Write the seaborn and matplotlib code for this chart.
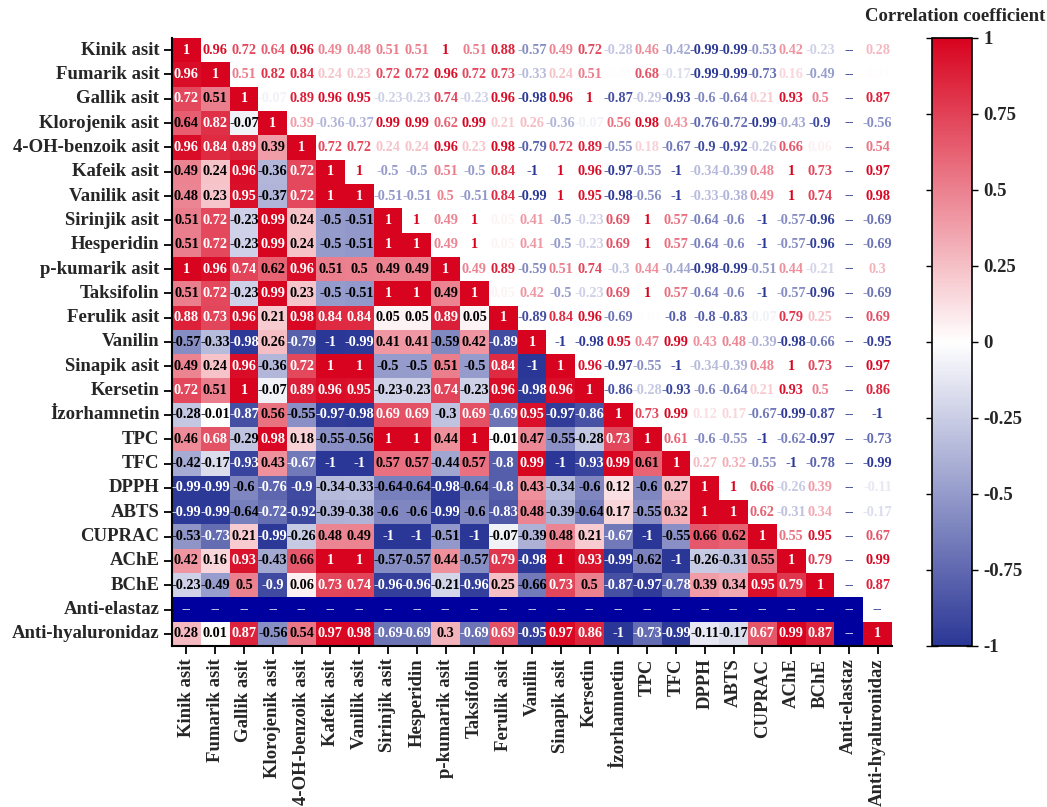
import numpy as np
import pandas as pd
import matplotlib
matplotlib.use("Agg")
import matplotlib.pyplot as plt
from matplotlib.colors import LinearSegmentedColormap, ListedColormap, Normalize
import seaborn as sns

labels = ["Kinik asit", "Fumarik asit", "Gallik asit", "Klorojenik asit",
          "4-OH-benzoik asit", "Kafeik asit", "Vanilik asit", "Sirinjik asit",
          "Hesperidin", "p-kumarik asit", "Taksifolin", "Ferulik asit", "Vanilin",
          "Sinapik asit", "Kersetin", "İzorhamnetin", "TPC", "TFC", "DPPH", "ABTS",
          "CUPRAC", "AChE", "BChE", "Anti-elastaz", "Anti-hyaluronidaz"]

# lower triangle of the correlation matrix (row i, columns 0..i-1); None = not computable
lower = [
    [],
    [0.96],
    [0.72, 0.51],
    [0.64, 0.82, -0.07],
    [0.96, 0.84, 0.89, 0.39],
    [0.49, 0.24, 0.96, -0.36, 0.72],
    [0.48, 0.23, 0.95, -0.37, 0.72, 1],
    [0.51, 0.72, -0.23, 0.99, 0.24, -0.5, -0.51],
    [0.51, 0.72, -0.23, 0.99, 0.24, -0.5, -0.51, 1],
    [1, 0.96, 0.74, 0.62, 0.96, 0.51, 0.5, 0.49, 0.49],
    [0.51, 0.72, -0.23, 0.99, 0.23, -0.5, -0.51, 1, 1, 0.49],
    [0.88, 0.73, 0.96, 0.21, 0.98, 0.84, 0.84, 0.05, 0.05, 0.89, 0.05],
    [-0.57, -0.33, -0.98, 0.26, -0.79, -1, -0.99, 0.41, 0.41, -0.59, 0.42, -0.89],
    [0.49, 0.24, 0.96, -0.36, 0.72, 1, 1, -0.5, -0.5, 0.51, -0.5, 0.84, -1],
    [0.72, 0.51, 1, -0.07, 0.89, 0.96, 0.95, -0.23, -0.23, 0.74, -0.23, 0.96, -0.98, 0.96],
    [-0.28, -0.01, -0.87, 0.56, -0.55, -0.97, -0.98, 0.69, 0.69, -0.3, 0.69, -0.69, 0.95,
     -0.97, -0.86],
    [0.46, 0.68, -0.29, 0.98, 0.18, -0.55, -0.56, 1, 1, 0.44, 1, -0.01, 0.47, -0.55, -0.28,
     0.73],
    [-0.42, -0.17, -0.93, 0.43, -0.67, -1, -1, 0.57, 0.57, -0.44, 0.57, -0.8, 0.99, -1,
     -0.93, 0.99, 0.61],
    [-0.99, -0.99, -0.6, -0.76, -0.9, -0.34, -0.33, -0.64, -0.64, -0.98, -0.64, -0.8, 0.43,
     -0.34, -0.6, 0.12, -0.6, 0.27],
    [-0.99, -0.99, -0.64, -0.72, -0.92, -0.39, -0.38, -0.6, -0.6, -0.99, -0.6, -0.83, 0.48,
     -0.39, -0.64, 0.17, -0.55, 0.32, 1],
    [-0.53, -0.73, 0.21, -0.99, -0.26, 0.48, 0.49, -1, -1, -0.51, -1, -0.07, -0.39, 0.48,
     0.21, -0.67, -1, -0.55, 0.66, 0.62],
    [0.42, 0.16, 0.93, -0.43, 0.66, 1, 1, -0.57, -0.57, 0.44, -0.57, 0.79, -0.98, 1, 0.93,
     -0.99, -0.62, -1, -0.26, -0.31, 0.55],
    [-0.23, -0.49, 0.5, -0.9, 0.06, 0.73, 0.74, -0.96, -0.96, -0.21, -0.96, 0.25, -0.66,
     0.73, 0.5, -0.87, -0.97, -0.78, 0.39, 0.34, 0.95, 0.79],
    [None] * 23,
    [0.28, 0.01, 0.87, -0.56, 0.54, 0.97, 0.98, -0.69, -0.69, 0.3, -0.69, 0.69, -0.95,
     0.97, 0.86, -1, -0.73, -0.99, -0.11, -0.17, 0.67, 0.99, 0.87, None],
]

cbar_ticks = [1, 0.75, 0.5, 0.25, 0, -0.25, -0.5, -0.75, -1]
cbar_ticklabels = ["1", "0.75", "0.5", "0.25", "0", "-0.25", "-0.5", "-0.75", "-1"]

# build symmetric matrix
n = len(labels)
mat = np.full((n, n), np.nan)
for i, row in enumerate(lower):
    for j, v in enumerate(row):
        if v is not None:
            mat[i, j] = v
            mat[j, i] = v
    if i != labels.index("Anti-elastaz"):
        mat[i, i] = 1.0
corr = pd.DataFrame(mat, index=labels, columns=labels)

sns.set_style("white")
plt.rcParams["font.family"] = ["Liberation Serif", "DejaVu Serif"]
plt.rcParams["font.weight"] = "bold"

cmap = LinearSegmentedColormap.from_list(
    "bwr_corr", ["#2B3796", "#FFFFFF", "#D8031F"])
norm = Normalize(-1, 1)
nan_color = "#00009E"

fig = plt.figure(figsize=(10.47, 8.07), dpi=100)
ax = fig.add_axes([172 / 1047, 1 - 646 / 807, 720 / 1047, 608 / 807])
cax = fig.add_axes([932 / 1047, 1 - 646 / 807, 40 / 1047, 608 / 807])

ii, jj = np.indices((n, n))
upper_mask = jj > ii
nan_mask = np.isnan(mat)

sns.heatmap(corr, mask=upper_mask | nan_mask, cmap=cmap, vmin=-1, vmax=1,
            square=False, ax=ax, cbar_ax=cax, linewidths=0,
            cbar_kws={"ticks": cbar_ticks})

# cells that have no coefficient (lower part)
nan_df = pd.DataFrame(np.where(nan_mask & ~upper_mask, 0.0, np.nan),
                      index=labels, columns=labels)
sns.heatmap(nan_df, cmap=ListedColormap([nan_color]), cbar=False, ax=ax,
            linewidths=0)

# cell labels
for i in range(n):
    for j in range(n):
        v = mat[i, j]
        txt = "--" if np.isnan(v) else f"{v:g}"
        if j <= i:
            color = "white" if (np.isnan(v) or abs(v) >= 0.665) else "black"
        else:
            color = "#1A2380" if np.isnan(v) else cmap(norm(v))
        ax.text(j + 0.5, i + 0.5, txt, ha="center", va="center",
                fontsize=10.3, fontweight="bold", color=color)

ax.set_xlim(0, n)
ax.set_ylim(n, 0)
ax.set_xticks(np.arange(n) + 0.5)
ax.set_yticks(np.arange(n) + 0.5)
ax.set_xticklabels(labels, rotation=90, fontsize=13.5, fontweight="bold")
ax.set_yticklabels(labels, rotation=0, fontsize=13.5, fontweight="bold")
ax.set_xlabel("")
ax.set_ylabel("")
for side in ["left", "bottom"]:
    ax.spines[side].set_visible(True)
    ax.spines[side].set_color("black")
    ax.spines[side].set_linewidth(1.5)
for side in ["top", "right"]:
    ax.spines[side].set_visible(False)
ax.tick_params(axis="both", which="major", length=6, width=1.3, color="black",
               direction="out", left=True, bottom=True, pad=3)

# colorbar styling
cbar = ax.collections[0].colorbar
cbar.set_ticks(cbar_ticks)
cbar.set_ticklabels(cbar_ticklabels)
cbar.outline.set_visible(True)
cbar.outline.set_edgecolor("black")
cbar.outline.set_linewidth(1.2)
cax.tick_params(axis="y", which="major", length=8, width=1.0, color="black",
                direction="inout", right=True, left=True, labelsize=13.5, pad=4)
for lab in cax.get_yticklabels():
    lab.set_fontweight("bold")

fig.text(0.912, 0.979, "Correlation coefficient", ha="center", va="center",
         fontsize=13.5, fontweight="bold")

fig.savefig("out.png", dpi=100)
